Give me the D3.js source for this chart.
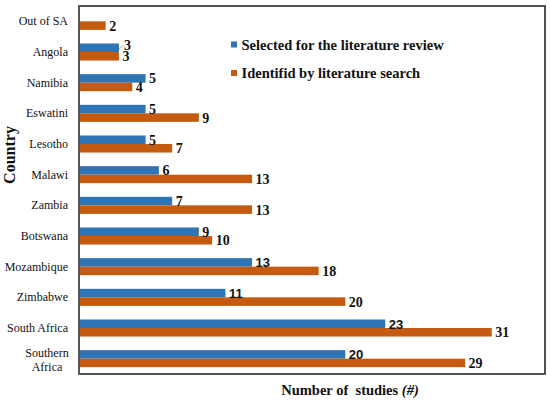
<!DOCTYPE html>
<html><head><meta charset="utf-8">
<script src="https://cdn.jsdelivr.net/npm/d3@7"></script>
<style>body{margin:0;background:#fff}svg{display:block}
svg text{font-family:"Liberation Serif","DejaVu Serif",serif}
svg text.sans{font-family:"Liberation Sans","DejaVu Sans",sans-serif}
</style>
</head><body>
<svg id="c" width="550" height="404"></svg>
<script>
const categories = ["Out of SA","Angola","Namibia","Eswatini","Lesotho","Malawi","Zambia","Botswana","Mozambique","Zimbabwe","South Africa","Southern Africa"];
const selected   = [null,3,5,5,5,6,7,9,13,11,23,20];
const identified = [2,3,4,9,7,13,13,10,18,20,31,29];
const seriesNames = ["Selected for the literature review","Identifid by literature search"];
const colors = ["#2E75B6","#C55A11"];
const sansLabelCats = ["Mozambique","Zimbabwe","South Africa","Southern Africa"];

const svg = d3.select("#c");
const L = 79, R = 545, T = 6, B = 374;
const x = d3.scaleLinear().domain([0,35]).range([L,R]);
const y = d3.scaleBand().domain(categories).range([T,B]).padding(0);
const yi = d3.scaleBand().domain([0,1]).range([0,y.bandwidth()]).paddingInner(0).paddingOuter(0.8);

const rows = categories.map((c,i)=>({c, vals:[selected[i], identified[i]]}));

const g = svg.append("g");
rows.forEach(r=>{
  r.vals.forEach((v,k)=>{
    if(v==null) return;
    g.append("rect")
      .attr("x", x(0)).attr("y", y(r.c)+yi(k))
      .attr("width", x(v)-x(0)).attr("height", yi.bandwidth())
      .attr("fill", colors[k]);
  });
});
// value labels
rows.forEach(r=>{
  r.vals.forEach((v,k)=>{
    if(v==null) return;
    const cy = y(r.c)+yi(k)+yi.bandwidth()/2;
    const useSans = k===0 && sansLabelCats.includes(r.c);
    const isTie = k===0 && r.vals[0]===r.vals[1];
    const tx = x(v) + (isTie ? 5 : 3.5);
    const ty = cy + 5 - (isTie ? 3 : 0);
    if(isTie){
      svg.append("line").attr("x1",x(v)).attr("y1",cy+1).attr("x2",tx).attr("y2",cy-2.5)
        .attr("stroke","#999").attr("stroke-width",0.8);
    }
    svg.append("text").attr("class", useSans ? "sans" : null).attr("x", tx).attr("y", ty)
      .style("font-weight","bold").style("font-size", (useSans ? 13 : 14)+"px")
      .attr("fill","#111").text(v);
  });
});

// frame
svg.append("rect").attr("x",L).attr("y",T).attr("width",R-L).attr("height",B-T)
  .attr("fill","none").attr("stroke","#1a1a1a").attr("stroke-width",1.5);
svg.append("line").attr("x1",L).attr("x2",L).attr("y1",T).attr("y2",B)
  .attr("stroke","#555").attr("stroke-width",2);

// category labels
const yAxis = d3.axisLeft(y).tickSize(0).tickPadding(11);
const ax = svg.append("g").attr("transform",`translate(${L},0)`).call(yAxis)
  .attr("font-family",null).attr("font-size",null);
ax.select(".domain").remove();
ax.selectAll("text").style("font-size","12px").attr("fill","#111")
  .each(function(d){
    if(d==="Southern Africa"){
      const t = d3.select(this).text(null).attr("text-anchor","middle").attr("x",-32).attr("dy",null).attr("y",0);
      t.append("tspan").attr("x",-32).attr("dy","-0.15em").text("Southern");
      t.append("tspan").attr("x",-32).attr("dy","1.15em").text("Africa");
    }
  });

// axis titles
svg.append("text").attr("transform","translate(15,155) rotate(-90)")
  .attr("text-anchor","middle").style("font-weight","bold")
  .style("font-size","16px").attr("fill","#111").text("Country");
const xt = svg.append("text").attr("x",350).attr("y",395).attr("text-anchor","middle")
  .style("font-weight","bold").style("font-size","14.5px").attr("fill","#111")
  .style("white-space","pre");
xt.append("tspan").text("Number of  studies ");
xt.append("tspan").style("font-style","italic").text("(#)");

// legend
seriesNames.forEach((n,k)=>{
  const ly = 44.5 + k*28.5;
  svg.append("rect").attr("x",231).attr("y",ly-3).attr("width",6).attr("height",6).attr("fill",colors[k]);
  svg.append("text").attr("x",241.5).attr("y",ly+5).style("font-weight","bold")
    .style("font-size","14.5px").attr("fill","#111").text(n);
});
</script>
</body></html>
